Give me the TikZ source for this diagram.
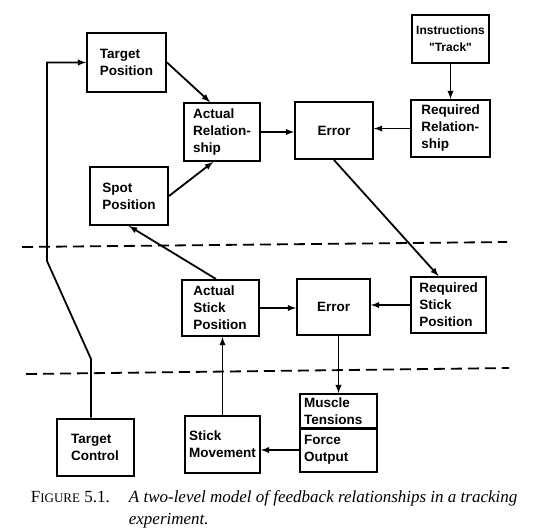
\documentclass[tikz,border=0pt]{standalone}
\usepackage{fontspec}
\setmainfont{Liberation Serif}
\newfontfamily\boxfont{Liberation Sans}
\usepackage{tikz}
\usetikzlibrary{arrows,calc}
\tikzstyle{blk}=[rectangle, draw, line width=2pt, inner sep=2pt, align=left,% boxes of the two levels
font=\boxfont\bfseries\fontsize{13.5}{17}\selectfont]
\tikzstyle{blkl}=[blk, text width=69pt, inner sep=4pt]
\tikzstyle{fbk}=[line width=1.8pt]
\tikzstyle{lvl}=[dash pattern=on 11pt off 6pt, line width=1.8pt]

\begin{document}
\begin{tikzpicture}[fbk, x=1pt, y=-1pt]
\useasboundingbox (0,0) rectangle (537,531);
% upper level
\node[blk, minimum width=79pt, minimum height=59pt] (tpos) at (126.5,62.5) {Target\\Position};
\node[blk, minimum width=76pt, minimum height=58pt] (arel) at (222,132) {Actual\\Relation-\\ship};
\node[blk, minimum width=78pt, minimum height=58pt] (spos) at (129,196) {Spot\\Position};
\node[blk, minimum width=78pt, minimum height=57pt] (err1) at (334,130.5) {Error};
\node[blk, align=center, minimum width=77pt, minimum height=48pt, font=\boxfont\bfseries\fontsize{12}{17}\selectfont] (instr) at (450.5,39) {Instructions\\"Track"};
\node[blk, minimum width=79pt, minimum height=57pt] (rrel) at (450.5,128.5) {Required\\Relation-\\ship};
% lower level
\node[blk, minimum width=77pt, minimum height=56pt] (astk) at (220,308) {Actual\\Stick\\Position};
\node[blk, minimum width=73pt, minimum height=56pt] (err2) at (333.5,306.5) {Error};
\node[blk, minimum width=75pt, minimum height=56pt] (rstk) at (448.5,305) {Required\\Stick\\Position};
\node[blk, minimum width=77pt, minimum height=57pt] (tctl) at (95,447) {Target\\Control};
\node[blk, minimum width=75pt, minimum height=57pt] (smov) at (222.5,444.5) {Stick\\Movement};
\node[blkl, minimum height=33pt] (mten) at (338.5,411.5) {Muscle\\Tensions};
\node[blkl, minimum height=44pt] (fout) at (338.5,450) {Force\\Output};
\coordinate (k1) at (91,359);
\coordinate (k2) at (47,261);
\coordinate (d1) at (22,247);
\coordinate (d2) at (507,242);
\coordinate (d3) at (26,374);
\coordinate (d4) at (509,368);
\draw [-{latex[slant=0]}] ([xshift=-4pt]tctl.north) -- (k1) -- (k2) |- (tpos);
\draw [-{latex[slant=0]}] (tpos.east) -- ([xshift=-12pt]arel.north);
\draw [-{latex[slant=0]}] (spos.east) -- ([xshift=-9pt]arel.south);
\draw [-{latex[slant=0]}] (arel.east) -- (arel.east -| err1.west);
\draw [-{latex[slant=0]}] (rrel.west) -- (rrel.west -| err1.east);
\draw [-{latex[slant=0]}] (instr) -- (rrel);
\draw [-{latex[slant=0]}] (err1.south) -- ([xshift=-10pt]rstk.north);
\draw [-{latex[slant=0]}] ([xshift=-4pt]astk.north) -- (spos.south);
\draw [-{latex[slant=0]}] (astk.east) -- (astk.east -| err2.west);
\draw [-{latex[slant=0]}] (rstk.west) -- (rstk.west -| err2.east);
\draw [-{latex[slant=0]}] (err2.south -| mten.north) -- (mten.north);
\draw [-{latex[slant=0]}] (fout.west) -- (fout.west -| smov.east);
\draw [-{latex[slant=0]}] (smov.north) -- (smov.north |- astk.south);
\draw [lvl] (d1) -- (d2);
\draw [lvl] (d3) -- (d4);
% caption
\node[anchor=base west, inner sep=0pt, font=\fontsize{17}{20}\selectfont] (fig) at (30,502) {F{\fontsize{13}{15}\selectfont IGURE} 5.1.};
\node[anchor=base west, inner sep=0pt, font=\itshape\fontsize{17}{20}\selectfont] (cap1) at (128,502) {A two-level model of feedback relationships in a tracking};
\node[anchor=base west, inner sep=0pt, font=\itshape\fontsize{17}{20}\selectfont] (cap2) at (128,524) {experiment.};
\end{tikzpicture}
\end{document}
